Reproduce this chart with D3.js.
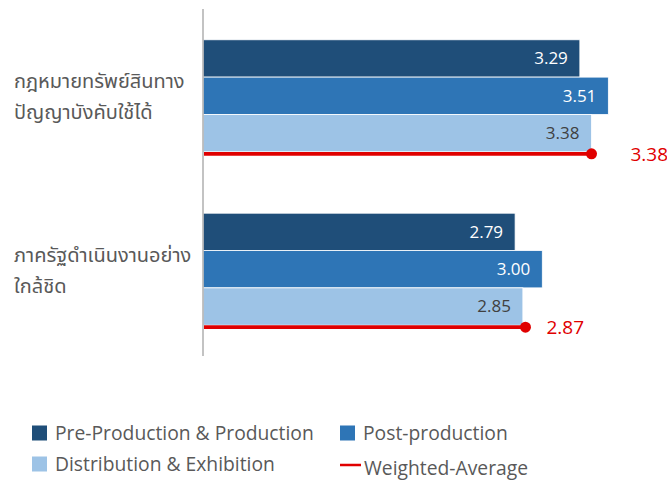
<!DOCTYPE html>
<html>
<head>
<meta charset="utf-8">
<script src="https://cdn.jsdelivr.net/npm/d3@7"></script>
<style>
  html, body { margin: 0; padding: 0; background: #fff; }
  svg { display: block; }
  text { font-family: "Open Sans", "Noto Sans Thai", "Noto Sans", sans-serif; }
</style>
</head>
<body>
<svg id="chart" width="667" height="480"></svg>
<script>
// Categories (each drawn on two lines)
const categories = ["cat1", "cat2"];
const categoryLines = [
  ["กฎหมายทรัพย์สินทาง", "ปัญญาบังคับใช้ได้"],
  ["ภาครัฐดำเนินงานอย่าง", "ใกล้ชิด"]
];

// Series
const seriesNames = ["Pre-Production & Production", "Post-production", "Distribution & Exhibition"];
const preProduction = [3.29, 2.79];
const postProduction = [3.51, 3.00];
const distribution = [3.38, 2.85];
const weightedAverage = [3.38, 2.87];
const averageName = "Weighted-Average";

const seriesColors = ["#1F4E79", "#2E75B6", "#9DC3E6"];
const labelColors = ["#ffffff", "#ffffff", "#404040"];
const red = "#E00000";
const textGrey = "#595959";

const seriesValues = [preProduction, postProduction, distribution];

const svg = d3.select("#chart");

// Horizontal value scale; bars grow from the axis line
const x = d3.scaleLinear().domain([0.38, 3.6]).range([203, 620]);

// Category bands along the vertical axis
const y = d3.scaleBand()
  .domain(categories)
  .range([9, 356])
  .paddingInner(0.354)
  .paddingOuter(0.1775);

const ySeries = d3.scaleBand()
  .domain(d3.range(seriesNames.length))
  .range([0, y.bandwidth()]);

// Bars
categories.forEach((c, ci) => {
  const g = svg.append("g").attr("transform", `translate(0,${y(c)})`);
  seriesValues.forEach((vals, si) => {
    const v = vals[ci];
    g.append("rect")
      .attr("x", x.range()[0])
      .attr("y", ySeries(si))
      .attr("width", x(v) - x.range()[0])
      .attr("height", ySeries.bandwidth())
      .attr("fill", seriesColors[si])
      .attr("stroke", "#ffffff")
      .attr("stroke-width", 0.8);
    g.append("text")
      .attr("x", x(v) - 12)
      .attr("y", ySeries(si) + ySeries.bandwidth() / 2)
      .attr("dy", "0.35em")
      .attr("text-anchor", "end")
      .attr("font-family", "Roboto, sans-serif")
      .attr("font-size", 17)
      .attr("fill", labelColors[si])
      .text(v.toFixed(2));
  });
});

// Weighted-average markers: a red rule under each group ending in a dot
const avgLabelDx = [39, 21];
categories.forEach((c, ci) => {
  const v = weightedAverage[ci];
  const ly = y(c) + y.bandwidth() + 2;
  svg.append("line")
    .attr("x1", x.range()[0] + 1)
    .attr("x2", x(v))
    .attr("y1", ly)
    .attr("y2", ly)
    .attr("stroke", red)
    .attr("stroke-width", 3.8);
  svg.append("circle")
    .attr("cx", x(v))
    .attr("cy", ly)
    .attr("r", 5.5)
    .attr("fill", red);
  svg.append("text")
    .attr("x", x(v) + avgLabelDx[ci])
    .attr("y", ly)
    .attr("dy", "0.36em")
    .attr("font-family", "Roboto, sans-serif")
    .attr("font-size", 19)
    .attr("fill", red)
    .text(v.toFixed(2));
});

// Vertical category axis line
svg.append("line")
  .attr("x1", 203).attr("x2", 203)
  .attr("y1", y.range()[0]).attr("y2", y.range()[1])
  .attr("stroke", "#b4b4b4")
  .attr("stroke-width", 1.6);

// Category labels
categories.forEach((c, ci) => {
  const cy = y(c) + (y.bandwidth() + 4) / 2;
  const lines = categoryLines[ci];
  lines.forEach((t, li) => {
    svg.append("text")
      .attr("x", 14)
      .attr("y", cy + (li - (lines.length - 1) / 2) * 31 - 1)
      .attr("dy", "0.35em")
      .attr("font-size", 20)
      .attr("fill", textGrey)
      .text(t);
  });
});

// Legend
const legendItems = [
  { name: seriesNames[0], color: seriesColors[0], type: "box", x: 32, y: 433 },
  { name: seriesNames[1], color: seriesColors[1], type: "box", x: 340, y: 433 },
  { name: seriesNames[2], color: seriesColors[2], type: "box", x: 32, y: 464 },
  { name: averageName, color: red, type: "line", x: 340, y: 465 }
];
const legend = svg.append("g");
legendItems.forEach(d => {
  if (d.type === "box") {
    legend.append("rect")
      .attr("x", d.x).attr("y", d.y - 7.5)
      .attr("width", 15).attr("height", 15)
      .attr("fill", d.color);
    legend.append("text")
      .attr("x", d.x + 23).attr("y", d.y)
      .attr("dy", "0.35em")
      .attr("font-size", 19.3)
      .attr("fill", textGrey)
      .text(d.name);
  } else {
    legend.append("line")
      .attr("x1", d.x).attr("x2", d.x + 21)
      .attr("y1", d.y).attr("y2", d.y)
      .attr("stroke", d.color).attr("stroke-width", 2.5);
    legend.append("text")
      .attr("x", d.x + 24).attr("y", d.y + 3)
      .attr("dy", "0.35em")
      .attr("font-size", 19.3)
      .attr("fill", textGrey)
      .text(d.name);
  }
});
</script>
</body>
</html>
